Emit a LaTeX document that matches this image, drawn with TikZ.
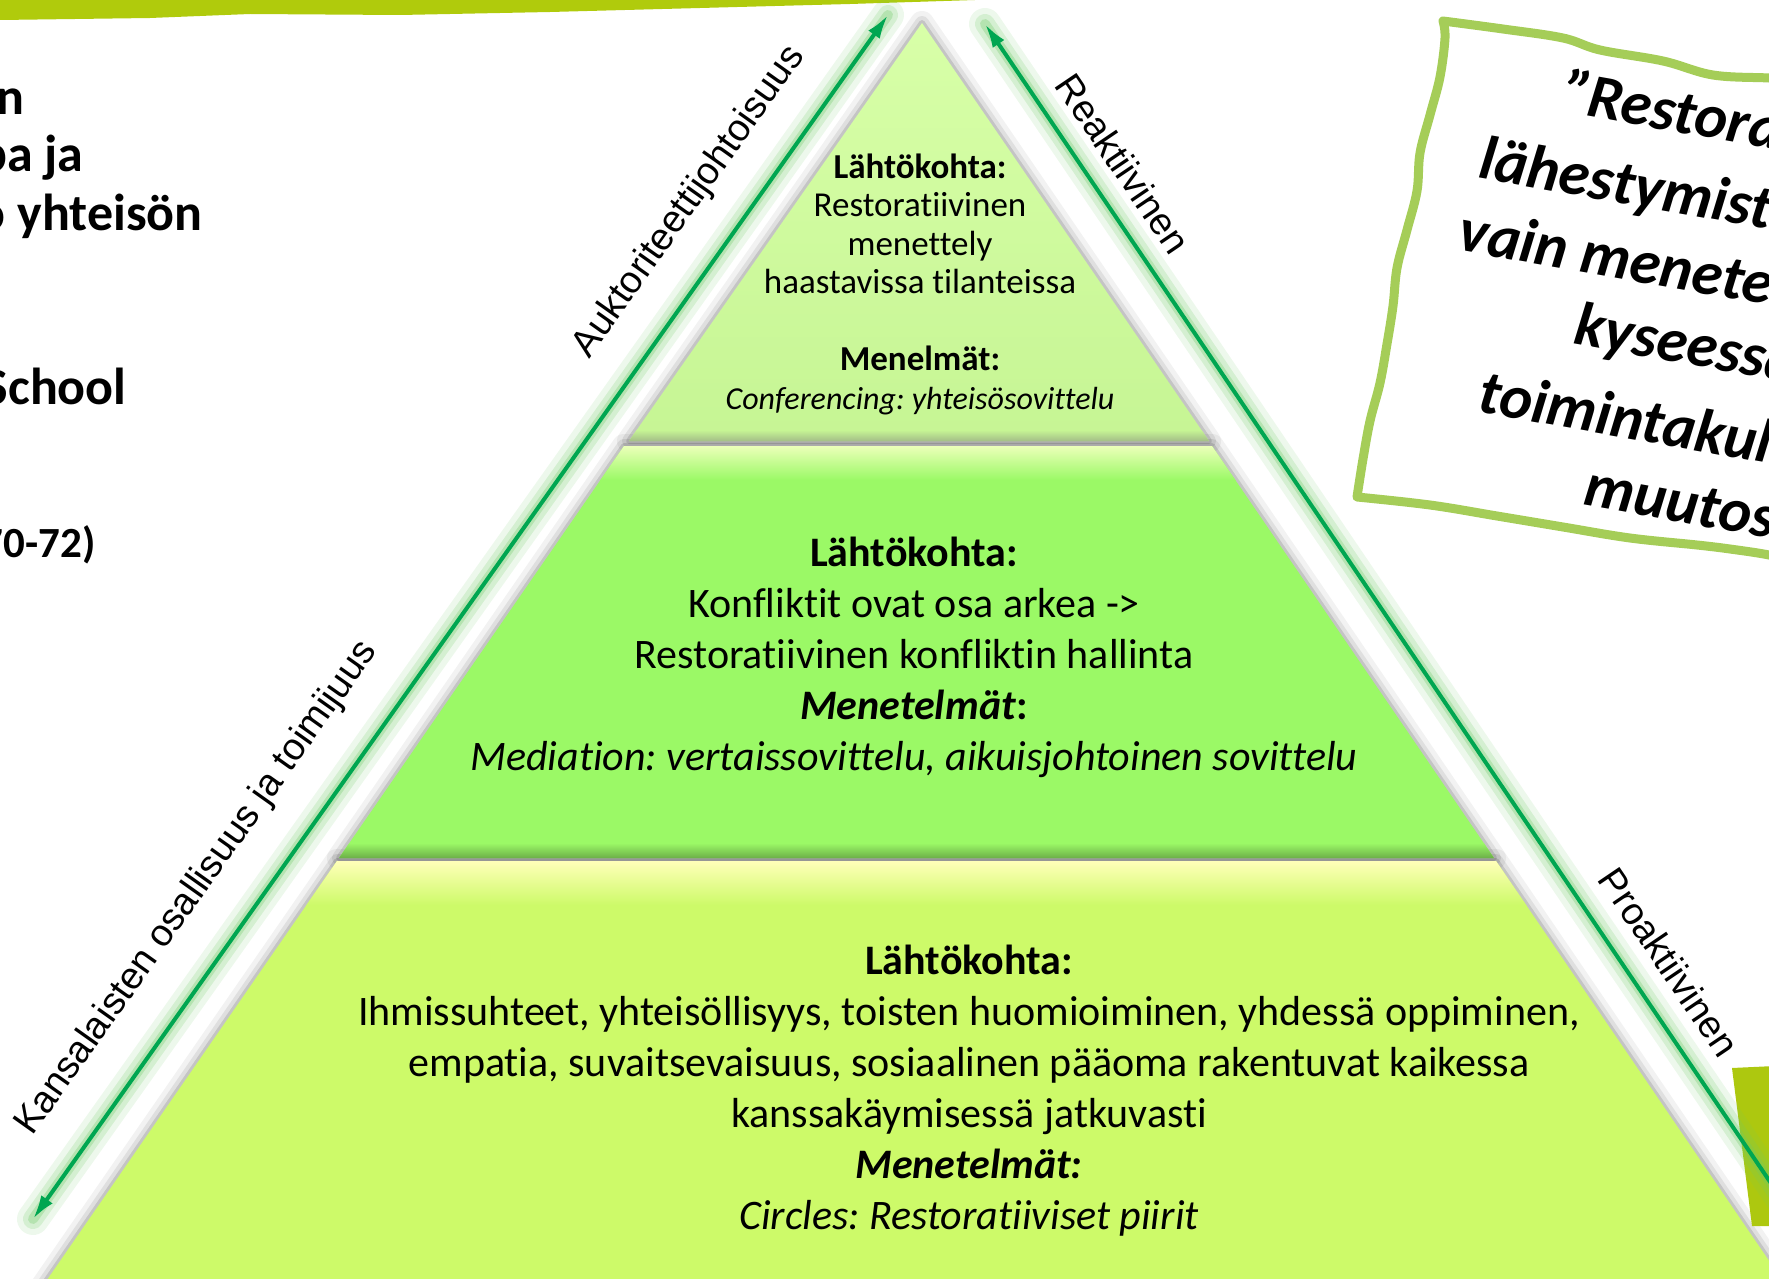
\documentclass[tikz,border=0pt]{standalone}
\usepackage{fontspec}
\setmainfont{Carlito}[Ligatures={TeX,NoCommon}]
\newfontfamily\arialfont{Liberation Sans}
\usepackage{xcolor}
\usepackage{tikz}
\usetikzlibrary{arrows.meta, positioning, calc}
\frenchspacing

\definecolor{bannerLime}{RGB}{176,203,12}
\definecolor{axisGreen}{RGB}{0,166,81}
\definecolor{glowGreen}{RGB}{110,200,100}
\definecolor{topTierA}{RGB}{216,255,168}
\definecolor{topTierB}{RGB}{198,245,148}
\definecolor{midTier}{RGB}{155,249,102}
\definecolor{baseTier}{RGB}{205,250,105}
\definecolor{quoteFrame}{RGB}{165,205,88}
\definecolor{cornerLime}{RGB}{173,200,15}

\begin{document}
\begin{tikzpicture}[x=0.5pt, y=-0.5pt,
    tierShadow/.style={draw=black, line join=round},
    axisLine/.style={draw=axisGreen, line width=2pt},
    axisGlow/.style={draw=glowGreen, line cap=round},
    sideLabel/.style={font=\arialfont\fontsize{19}{22}\selectfont, sloped, inner sep=0pt},
    quoteText/.style={font=\bfseries\itshape\fontsize{31}{37}\selectfont, rotate=-10, anchor=west, inner sep=0pt, text height=0.75em, text depth=0.25em},
    leftText/.style={font=\bfseries\fontsize{26}{29}\selectfont, anchor=base east, inner sep=0pt}]

    \useasboundingbox (0,0) rectangle (1769,1279);
    \clip (0,0) rectangle (1769,1279);

    % Banner
    \fill[bannerLime] (0,0) -- (975,0) -- (850,4) -- (700,8) -- (550,12) -- (400,15)
        -- (250,14) -- (150,18) -- (0,20) -- cycle;

    % Left text (cut off)
    \node[leftText] (lineN) at (25,115) {n};
    \node[leftText] (lineJa) at (84,172) {pa ja};
    \node[leftText] (lineYht) at (203,230) {o yhteisön};
    \node[leftText] (lineSchool) at (127,404) {School};
    \node[leftText, font=\bfseries\fontsize{21.5}{26}\selectfont] (lineYear) at (96,557) {70-72)};

    % Tier shadows
    \foreach \w/\o in {12pt/0.05, 7pt/0.08, 3pt/0.12} {
        \draw[tierShadow, line width=\w, opacity=\o] (922,23) -- (1209,441) -- (629,441) -- cycle;
        \draw[tierShadow, line width=\w, opacity=\o] (624,446) -- (1212,446) -- (1494,858) -- (339,858) -- cycle;
        \draw[tierShadow, line width=\w, opacity=\o] (337,861) -- (1496,861) -- (1789,1290) -- (40,1290) -- cycle;
    }

    % Top tier
    \shade[top color=topTierA, bottom color=topTierB] (922,23) -- (1209,441) -- (629,441) -- cycle;
    \begin{scope}
        \clip (922,23) -- (1209,441) -- (629,441) -- cycle;
        \shade[top color=topTierB, bottom color={rgb,255:red,160;green,185;blue,135}] (600,430) rectangle (1240,442);
    \end{scope}

    % Middle tier
    \fill[midTier] (624,446) -- (1212,446) -- (1494,858) -- (339,858) -- cycle;
    \begin{scope}
        \clip (624,446) -- (1212,446) -- (1494,858) -- (339,858) -- cycle;
        \shade[top color={rgb,255:red,235;green,255;blue,185}, bottom color=midTier] (300,446) rectangle (1540,480);
        \shade[top color=midTier, bottom color={rgb,255:red,105;green,170;blue,70}] (300,843) rectangle (1540,859);
    \end{scope}

    % Bottom tier
    \fill[baseTier] (337,861) -- (1496,861) -- (1789,1290) -- (40,1290) -- cycle;
    \begin{scope}
        \clip (337,861) -- (1496,861) -- (1789,1290) -- (40,1290) -- cycle;
        \shade[top color={rgb,255:red,255;green,255;blue,185}, bottom color=baseTier] (0,861) rectangle (1800,905);
    \end{scope}

    % Tier texts
    \node[align=center, font=\fontsize{17.5}{19.25}\selectfont] (topText) at (920,284)
        {\textbf{Lähtökohta:}\\Restoratiivinen\\menettely\\haastavissa tilanteissa\\[19.25pt]%
         \textbf{Menelmät:}\\{\fontsize{16}{19.25}\selectfont\itshape Conferencing: yhteisösovittelu}};
    \node[align=center, font=\fontsize{21}{25.5}\selectfont] (midText) at (914,657)
        {\textbf{Lähtökohta:}\\Konfliktit ovat osa arkea ->\\Restoratiivinen konfliktin hallinta\\%
         \textbf{\textit{Menetelmät}:}\\\textit{Mediation: vertaissovittelu, aikuisjohtoinen sovittelu}};
    \node[align=center, font=\fontsize{21}{25.5}\selectfont] (baseText) at (969,1091)
        {\textbf{Lähtökohta:}\\Ihmissuhteet, yhteisöllisyys, toisten huomioiminen, yhdessä oppiminen,\\%
         empatia, suvaitsevaisuus, sosiaalinen pääoma rakentuvat kaikessa\\kanssakäymisessä jatkuvasti\\%
         \textbf{\textit{Menetelmät:}}\\\textit{Circles: Restoratiiviset piirit}};

    % Corner shape
    \fill[cornerLime] (1732,1068) -- (1775,1066) -- (1775,1226) -- (1752,1226) -- cycle;

    % Axis arrows
    \coordinate (kanBot) at (33,1219);
    \coordinate (aukTop) at (888,15);
    \coordinate (reaTop) at (985,24);
    \coordinate (proBot) at (1800,1226);

    \foreach \w/\o in {16pt/0.12, 10pt/0.2, 5pt/0.3} {
        \draw[axisGlow, line width=\w, opacity=\o] (kanBot) -- (aukTop);
        \draw[axisGlow, line width=\w, opacity=\o] (reaTop) -- (proBot);
    }

    \draw[axisLine, {Latex[length=12pt, width=7pt]}-{Latex[length=12pt, width=7pt]}] (kanBot) --
        node[sideLabel, pos=0.247, above=19pt] (kanLabel) {Kansalaisten osallisuus ja toimijuus}
        node[sideLabel, pos=0.819, above=17pt] (aukLabel) {Auktoriteettijohtoisuus}
        (aukTop);
    \draw[axisLine, {Latex[length=12pt, width=7pt]}-] (reaTop) --
        node[sideLabel, pos=0.133, above=10pt] (reaLabel) {Reaktiivinen}
        node[sideLabel, pos=0.799, above=12pt] (proLabel) {Proaktiivinen}
        (proBot);

    % Quote box
    \fill[white] (1443,21) -- (1800,60) -- (1800,570) -- (1357,497) -- cycle;
    \draw[quoteFrame, line width=4.5pt, line join=round]
        plot[smooth, tension=0.6] coordinates {(1443,21) (1503,29) (1563,38) (1600,50) (1663,61) (1713,75) (1769,78) (1800,80)}
        -- (1800,566) --
        plot[smooth, tension=0.6] coordinates {(1800,563) (1769,555) (1730,549) (1697,545) (1630,538) (1563,527) (1497,516) (1430,505) (1357,497)}
        --
        plot[smooth, tension=0.6] coordinates {(1357,497) (1363,459) (1370,421) (1380,383) (1387,344) (1393,306) (1397,268) (1407,230) (1417,191) (1420,153) (1430,115) (1440,77) (1445,38) (1443,21)}
        -- cycle;

    \node[quoteText] (quoteA) at (1563,107) {”\kern-2pt Restorat};
    \node[quoteText] (quoteB) at (1478,173) {lähestymista};
    \node[quoteText] (quoteC) at (1457,245) {vain menetel};
    \node[quoteText] (quoteD) at (1573,339) {kyseessä};
    \node[quoteText] (quoteE) at (1477,407) {toimintakult};
    \node[quoteText] (quoteF) at (1583,500) {muutos};

\end{tikzpicture}
\end{document}
